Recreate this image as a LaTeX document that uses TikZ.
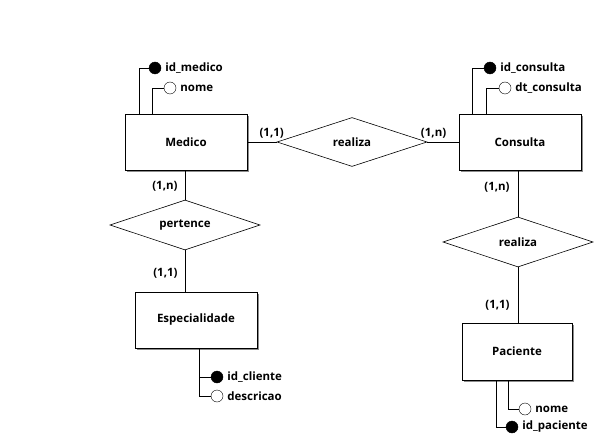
\documentclass[tikz,border=0pt]{standalone}
\usepackage{fontspec}
\setmainfont{Open Sans}
\usetikzlibrary{positioning,calc,shapes.geometric,shadows}
\definecolor{erink}{HTML}{000000}
\definecolor{ershade}{HTML}{8C8C8C}
\tikzset{
  ent/.style={draw=erink, fill=white, minimum width=122pt, minimum height=56pt, inner sep=2pt,
    drop shadow={shadow xshift=1.6pt, shadow yshift=-1.6pt, fill=ershade, opacity=1}},
  rel/.style={diamond, draw=erink, fill=white, shape aspect=3, minimum width=150pt, minimum height=49pt, inner sep=0pt, line width=0.6pt},
  pk/.style={circle, draw=erink, fill=erink, minimum size=12pt, inner sep=0pt},
  att/.style={circle, draw=erink, fill=white, minimum size=12pt, inner sep=0pt},
  atxt/.style={right=3pt, inner sep=1pt},
  card/.style={inner sep=1pt},
  ln/.style={draw=erink, line width=0.8pt},
}

\begin{document}
\begin{tikzpicture}[x=1pt, y=-1pt, font=\fontsize{11.5}{13}\selectfont\bfseries]
  \useasboundingbox (0,0) rectangle (601,438);
  % entidades
  \node[ent] (med) at (186,142) {Medico};
  \node[ent] (cons) at (520,142) {Consulta};
  \node[ent] (esp) at (196,320) {Especialidade};
  \node[ent, minimum width=110pt, minimum height=57pt] (pac) at (517,351.5) {Paciente};
  % relacionamentos
  \node[rel] (real) at (352,142) {realiza};
  \node[rel, minimum height=50pt] (pert) at (185,225) {pertence};
  \node[rel, minimum height=50pt] (real2) at (518,242) {realiza};
  % atributos
  \node[pk] (medid) at (155,68) {};
  \node[atxt] at (medid.east) {id\_medico};
  \node[att] (mednome) at (170,88) {};
  \node[atxt] at (mednome.east) {nome};
  \node[pk] (consid) at (490,68) {};
  \node[atxt] at (consid.east) {id\_consulta};
  \node[att] (consdt) at (505,88) {};
  \node[atxt] at (consdt.east) {dt\_consulta};
  \node[pk] (espid) at (217,377) {};
  \node[atxt] at (espid.east) {id\_cliente};
  \node[att] (espdesc) at (217,396) {};
  \node[atxt] at (espdesc.east) {descricao};
  \node[att] (pacnome) at (525,409) {};
  \node[atxt] at (pacnome.east) {nome};
  \node[pk] (pacid) at (512,427) {};
  \node[atxt] at (pacid.east) {id\_paciente};
  % ligacoes
  \draw[ln] (med.east) -- node[card, pos=0.83, above=2pt] {(1,1)} (real.west);
  \draw[ln] (real.east) -- node[card, pos=0.2, above=2pt] {(1,n)} (cons.west);
  \draw[ln] (pert.north |- med.south) -- node[card, pos=0.55, left=6pt] {(1,n)} (pert.north);
  \draw[ln] (pert.south) -- node[card, pos=0.55, left=6pt] {(1,1)} (pert.south |- esp.north);
  \draw[ln] (real2.north |- cons.south) -- node[card, pos=0.36, left=7pt] {(1,n)} (real2.north);
  \draw[ln] (real2.south) -- node[card, pos=0.68, left=7pt] {(1,1)} (real2.south |- pac.north);
  \draw[ln] (medid.west) -| ([xshift=15pt]med.north west);
  \draw[ln] (mednome.west) -| ([xshift=28pt]med.north west);
  \draw[ln] (consid.west) -| ([xshift=14pt]cons.north west);
  \draw[ln] (consdt.west) -| ([xshift=28pt]cons.north west);
  \draw[ln] (espid.west) -| ([xshift=65pt]esp.south west);
  \draw[ln] (espdesc.west) -| ([xshift=65pt]esp.south west);
  \draw[ln] (pacnome.west) -| ([xshift=47pt]pac.south west);
  \draw[ln] (pacid.west) -| ([xshift=35pt]pac.south west);
\end{tikzpicture}
\end{document}
